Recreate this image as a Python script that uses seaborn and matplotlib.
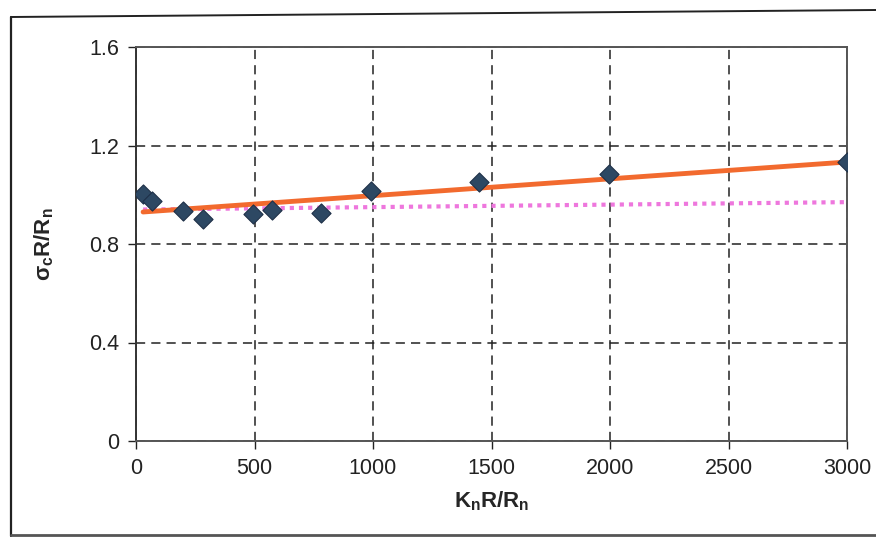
import matplotlib
matplotlib.use("Agg")
import matplotlib.pyplot as plt
import seaborn as sns
import pandas as pd
from matplotlib.lines import Line2D

# ---- data ----
kn_ratio = [30, 68, 200, 283, 494, 575, 782, 993, 1449, 1994, 3000]
sigma_ratio = [1.005, 0.975, 0.935, 0.900, 0.920, 0.940, 0.925, 1.015, 1.050, 1.085, 1.133]

trend_x = [30, 3000]
trend_linear = [0.930, 1.133]
trend_flat = [0.940, 0.970]

x_ticks = [0, 500, 1000, 1500, 2000, 2500, 3000]
y_ticks = [0, 0.4, 0.8, 1.2, 1.6]

sns.set_theme(style="white")
plt.rcParams['font.family'] = ['Liberation Sans', 'DejaVu Sans']
plt.rcParams['mathtext.fontset'] = 'custom'
plt.rcParams['mathtext.rm'] = 'Liberation Sans'
plt.rcParams['mathtext.bf'] = 'Liberation Sans:bold'
plt.rcParams['mathtext.it'] = 'Liberation Sans:italic'

fig = plt.figure(figsize=(8.76, 5.37), dpi=100)
ax = fig.add_axes([136/876, 1-441/537, (847-136)/876, (441-47)/537])

df = pd.DataFrame({"x": kn_ratio, "y": sigma_ratio})
tl = pd.DataFrame({"x": trend_x, "lin": trend_linear, "flat": trend_flat})

sns.lineplot(data=tl, x="x", y="flat", ax=ax, color="#EE77DD", lw=3,
             linestyle=(0, (1, 1.2)), zorder=3)
sns.lineplot(data=tl, x="x", y="lin", ax=ax, color="#F26A2E", lw=3.5, zorder=4)
sns.scatterplot(data=df, x="x", y="y", ax=ax, marker="D", s=95,
                color="#2D4863", edgecolor="#1E3048", linewidth=0.8, zorder=5)

ax.set_xlim(0, 3000)
ax.set_ylim(0, 1.6)
ax.set_xticks(x_ticks)
ax.set_yticks(y_ticks)
ax.set_xticklabels([str(v) for v in x_ticks])
ax.set_yticklabels(["0", "0.4", "0.8", "1.2", "1.6"])
ax.grid(True, color="#222222", linestyle=(0, (6, 4)), linewidth=1.1)
ax.tick_params(axis="both", labelsize=15.5, colors="#222222", length=6, width=1,
               direction="out", bottom=True, left=True, pad=6)
for s in ax.spines.values():
    s.set_color("#555555")
    s.set_linewidth(1.4)
ax.spines["left"].set_color("#333333")

ax.set_xlabel(r"$\mathbf{K_n R/R_n}$", fontsize=16, labelpad=8)
ax.set_ylabel(r"$\mathbf{\sigma_c R/R_n}$", fontsize=16, labelpad=24)

# outer chart frame
fig.add_artist(Line2D([11/876, 11/876], [1-536/537, 1-17/537], transform=fig.transFigure,
                      color="#222222", lw=1.6))
fig.add_artist(Line2D([11/876, 1.0], [1-17/537, 1-10/537], transform=fig.transFigure,
                      color="#222222", lw=1.4))
fig.add_artist(Line2D([11/876, 1.0], [1-535/537, 1-535/537], transform=fig.transFigure,
                      color="#555555", lw=2))

fig.savefig("out.png", dpi=100)
